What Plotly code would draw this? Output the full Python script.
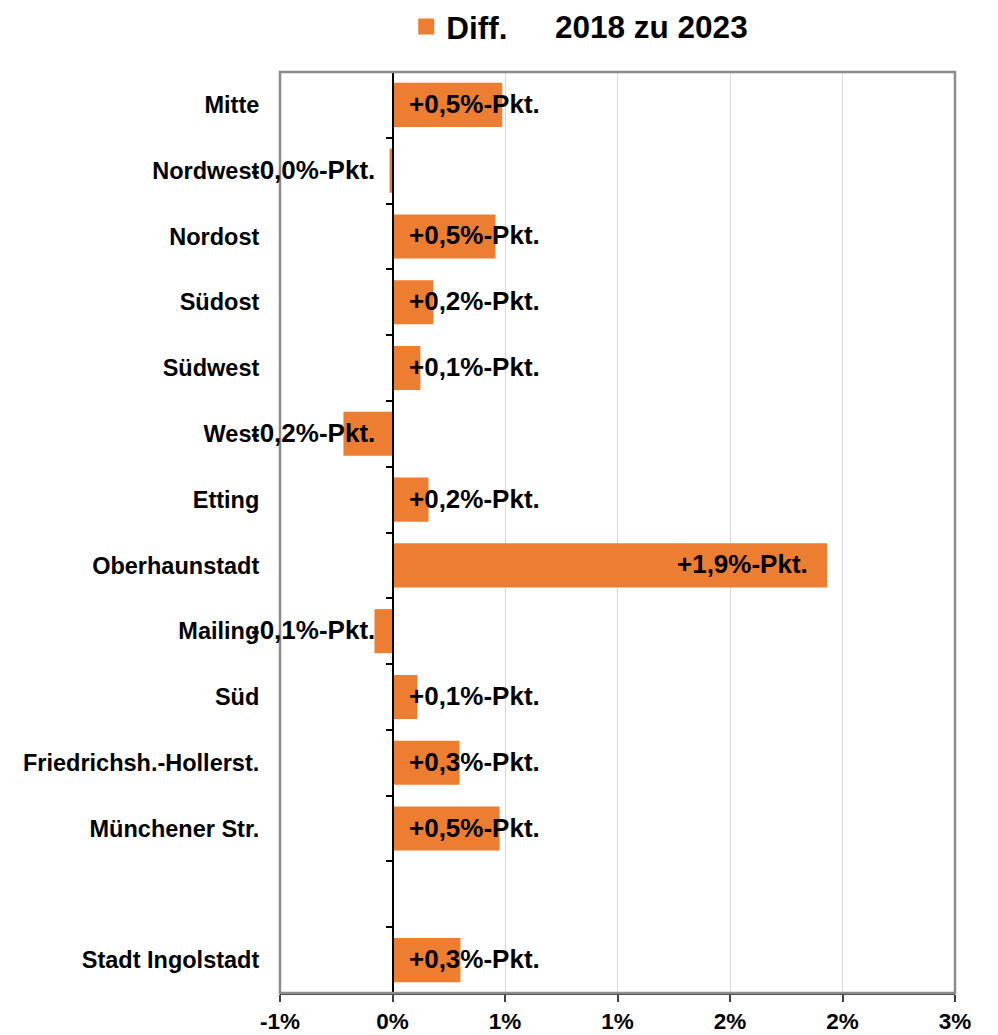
import plotly.graph_objects as go

categories = ["Mitte", "Nordwest", "Nordost", "Südost", "Südwest", "West", "Etting",
              "Oberhaunstadt", "Mailing", "Süd", "Friedrichsh.-Hollerst.",
              "Münchener Str.", " ", "Stadt Ingolstadt"]
diff_values = [0.488, -0.013, 0.458, 0.182, 0.124, -0.218, 0.160,
               1.932, -0.080, 0.111, 0.298, 0.476, None, 0.302]
value_labels = ["+0,5%-Pkt.", "-0,0%-Pkt.", "+0,5%-Pkt.", "+0,2%-Pkt.", "+0,1%-Pkt.",
                "-0,2%-Pkt.", "+0,2%-Pkt.", "+1,9%-Pkt.", "-0,1%-Pkt.", "+0,1%-Pkt.",
                "+0,3%-Pkt.", "+0,5%-Pkt.", "", "+0,3%-Pkt."]
x_tickvals = [-0.5, 0, 0.5, 1.0, 1.5, 2.0, 2.5]
x_ticktext = ["-1%", "0%", "1%", "1%", "2%", "2%", "3%"]
series_name = "Diff."
title_text = "2018 zu 2023"

ORANGE = "#ED7D31"
FONT = "Arial, Liberation Sans, sans-serif"

fig = go.Figure()
fig.add_trace(go.Bar(
    y=categories, x=diff_values, orientation="h", name=series_name,
    marker=dict(color=ORANGE, line=dict(width=0)), width=0.67, showlegend=False,
))
# legend entry (square swatch)
fig.add_trace(go.Scatter(x=[None], y=[None], mode="markers", name=series_name,
                         marker=dict(symbol="square", size=16, color=ORANGE),
                         showlegend=True, hoverinfo="skip"))
# helper trace for the category-boundary axis drawn at x = 0
fig.add_trace(go.Scatter(x=[None], y=[None], yaxis="y2", showlegend=False,
                         hoverinfo="skip"))

xmin, xmax = x_tickvals[0], x_tickvals[-1]
n = len(categories)

for cat, v, lab in zip(categories, diff_values, value_labels):
    if v is None or not lab:
        continue
    if v > 1:
        fig.add_annotation(x=v, y=cat, text=lab, showarrow=False,
                           xanchor="right", xshift=-17, yshift=1)
    elif v >= 0:
        fig.add_annotation(x=0, y=cat, text=lab, showarrow=False,
                           xanchor="left", xshift=14, yshift=1)
    else:
        fig.add_annotation(x=0, y=cat, text=lab, showarrow=False,
                           xanchor="right", xshift=-16, yshift=1)

fig.update_annotations(font=dict(family=FONT, size=26, color="black", weight="bold"))

fig.add_annotation(xref="paper", yref="paper", x=0.551, y=1.0487, text=title_text,
                   showarrow=False, xanchor="center", yanchor="middle",
                   font=dict(family=FONT, size=31.5, color="black", weight="bold"))

# plot frame
fig.add_shape(type="rect", xref="paper", yref="paper", x0=0, y0=0, x1=1, y1=1,
              line=dict(color="#8C8C8C", width=2.5), layer="above")

fig.update_layout(
    width=990, height=1027,
    margin=dict(l=272, r=43, t=64, b=42, autoexpand=False),
    paper_bgcolor="white", plot_bgcolor="white",
    showlegend=True,
    legend=dict(x=0.187, y=1.0787, xanchor="left", yanchor="top",
                orientation="h", bgcolor="rgba(0,0,0,0)",
                font=dict(family=FONT, size=31.5, color="black", weight="bold"),
                itemwidth=30),
    xaxis=dict(range=[xmin, xmax], tickvals=x_tickvals, ticktext=x_ticktext,
               showgrid=True, gridcolor="#D9D9D9", gridwidth=1,
               zeroline=True, zerolinecolor="black", zerolinewidth=1.5,
               showline=True, linecolor="#404040", linewidth=2,
               ticks="outside", ticklen=7, tickcolor="#404040", tickwidth=1.5,
               tickfont=dict(family=FONT, size=22.5, color="black", weight="bold"),
               fixedrange=True),
    yaxis=dict(categoryorder="array", categoryarray=categories,
               autorange="reversed",
               showgrid=False, zeroline=False, showline=False,
               ticks="outside", ticklen=15, tickcolor="rgba(0,0,0,0)",
               tickfont=dict(family=FONT, size=23.5, color="black", weight="bold")),
    yaxis2=dict(overlaying="y", anchor="free", position=(0 - xmin) / (xmax - xmin),
                side="left", range=[n - 0.5, -0.5],
                tickvals=[k - 0.5 for k in range(n + 1)],
                showticklabels=False, showgrid=False, zeroline=False,
                showline=True, linecolor="black", linewidth=1.5,
                ticks="outside", ticklen=6, tickcolor="black", tickwidth=1.5),
)

fig.write_html("out.html")
